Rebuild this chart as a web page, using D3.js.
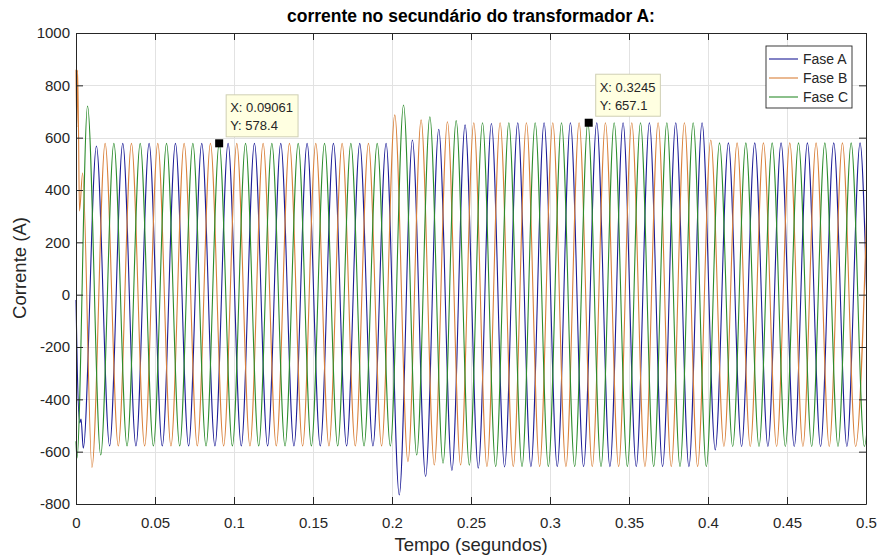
<!DOCTYPE html>
<html><head><meta charset="utf-8">
<script src="https://cdn.jsdelivr.net/npm/d3@7"></script>
<style>
body{margin:0;background:#fff}
svg{display:block}
text{font-family:"Liberation Sans",Arial,Helvetica,sans-serif;}
</style>
</head><body>
<svg id="c" width="879" height="556"></svg>
<script>
// ---- data ----
const xTicks = [0, 0.05, 0.1, 0.15, 0.2, 0.25, 0.3, 0.35, 0.4, 0.45, 0.5];
const xTickLabels = ["0","0.05","0.1","0.15","0.2","0.25","0.3","0.35","0.4","0.45","0.5"];
const yTicks = [-800,-600,-400,-200,0,200,400,600,800,1000];
const yTickLabels = ["-800","-600","-400","-200","0","200","400","600","800","1000"];
const seriesNames = ["Fase A","Fase B","Fase C"];

// spacing of successive extrema (half a 60 Hz cycle), read from the peaks
const halfCycle = 0.008333;

// initial transient points [t, value]
const startA = [[0,-20],[0.0008,-280],[0.0024,-490],[0.0032,-475]];
const startB = [[0,860],[0.0005,640],[0.0010,858],[0.0016,620],[0.0022,320],[0.0042,465]];
const startC = [[0,-560],[0.0006,-625]];

// time of first regular extremum of each phase
const firstExtA = 0.0046, firstExtB = 0.0101, firstExtC = 0.0073;

// successive extrema (peaks / troughs) of each phase
const extremaA = [-587,568,
 -578,578,-578,578,-578,578,-578,578,-578,578,-578,578,-578,578,-578,578,-578,578,-578,578,-578,578,
 -765,591,-695,632,-672,649,-663,654,-658,
 657,-657,657,-657,657,-657,657,-657,657,-657,657,-657,657,-657,657,
 -593,
 580,-580,580,-580,580,-580,580,-580,580,-580,580,-580,580];
const extremaB = [-660,578,
 -578,578,-578,578,-578,578,-578,578,-578,578,-578,578,-578,578,-578,578,-578,578,-578,578,-578,
 687,-638,668,-651,661,-651,657,
 -657,657,-657,657,-657,657,-657,657,-657,657,-657,657,-657,657,-657,657,-657,
 591,
 -580,580,-580,580,-580,580,-580,580,-580,580,-580,580];
const extremaC = [721,-613,
 578,-578,578,-578,578,-578,578,-578,578,-578,578,-578,578,-578,578,-578,578,-578,578,-578,578,-578,
 725,-613,680,-644,665,-652,
 657,-657,657,-657,657,-657,657,-657,657,-657,657,-657,657,-657,657,-657,657,-657,
 580,-580,580,-580,580,-580,580,-580,580,-580,580,-580,580];

// data tips
const tipX = [0.09061, 0.3245];
const tipY = [578.4, 657.1];

// ---- build series ----
function build(start, t0, ext){
  return start.concat(ext.map((v,i)=>[t0 + i*halfCycle, v]));
}
const series = [
  {name: seriesNames[0], color:"#1c1c96", data: build(startA, firstExtA, extremaA)},
  {name: seriesNames[1], color:"#d9803a", data: build(startB, firstExtB, extremaB)},
  {name: seriesNames[2], color:"#2c8c2c", data: build(startC, firstExtC, extremaC)}
];

// ---- layout ----
const L = 76, R = 866, T = 33, B = 504;
const axisColor = "#262626";
const svg = d3.select("#c");
const x = d3.scaleLinear().domain([0,0.5]).range([L,R]);
const y = d3.scaleLinear().domain([-800,1000]).range([B,T]);

// grid
const grid = svg.append("g").attr("stroke","#e2e2e2").attr("stroke-width",1);
grid.selectAll(".gx").data(xTicks).join("line")
  .attr("x1",d=>Math.round(x(d))+0.5).attr("x2",d=>Math.round(x(d))+0.5)
  .attr("y1",T).attr("y2",B);
grid.selectAll(".gy").data(yTicks).join("line")
  .attr("y1",d=>Math.round(y(d))+0.5).attr("y2",d=>Math.round(y(d))+0.5)
  .attr("x1",L).attr("x2",R);

// clip
svg.append("clipPath").attr("id","clip").append("rect")
  .attr("x",L-1).attr("y",T).attr("width",R-L+1).attr("height",B-T);

const line = d3.line().x(d=>x(d[0])).y(d=>y(d[1])).curve(d3.curveMonotoneX);
svg.append("g").attr("clip-path","url(#clip)")
  .selectAll("path").data(series).join("path")
  .attr("d",d=>line(d.data)).attr("fill","none")
  .attr("stroke",d=>d.color).attr("stroke-width",1.1);

// axes
function style(g){
  g.selectAll("path,line").attr("stroke",axisColor);
  g.selectAll("text").attr("fill",axisColor).attr("font-size","15px")
   .attr("font-family",'"Liberation Sans",Arial,sans-serif');
  g.attr("font-family",null).attr("font-size",null);
}
svg.append("g").attr("transform",`translate(0,${B})`)
  .call(d3.axisBottom(x).tickValues(xTicks).tickFormat((d,i)=>xTickLabels[i])
        .tickSize(-7).tickSizeOuter(0).tickPadding(13)).call(style);
svg.append("g").attr("transform",`translate(0,${T})`)
  .call(d3.axisTop(x).tickValues(xTicks).tickFormat("").tickSize(-7).tickSizeOuter(0)).call(style);
svg.append("g").attr("transform",`translate(${L},0)`)
  .call(d3.axisLeft(y).tickValues(yTicks).tickFormat((d,i)=>yTickLabels[i])
        .tickSize(-7).tickSizeOuter(0).tickPadding(6)).call(style);
svg.append("g").attr("transform",`translate(${R},0)`)
  .call(d3.axisRight(y).tickValues(yTicks).tickFormat("").tickSize(-7).tickSizeOuter(0)).call(style);

// titles
svg.append("text").attr("x",(L+R)/2).attr("y",22).attr("text-anchor","middle")
  .attr("font-weight","bold").attr("font-size","17.5px").attr("fill","#000")
  .text("corrente no secundário do transformador A:");
svg.append("text").attr("x",(L+R)/2).attr("y",551).attr("text-anchor","middle")
  .attr("font-size","18.5px").attr("fill",axisColor).text("Tempo (segundos)");
svg.append("text").attr("transform","translate(26,268) rotate(-90)").attr("text-anchor","middle")
  .attr("font-size","18.5px").attr("fill",axisColor).text("Corrente (A)");

// legend
const lg = svg.append("g").attr("transform","translate(766,46)");
lg.append("rect").attr("width",86).attr("height",62).attr("fill","#fff")
  .attr("stroke",axisColor).attr("stroke-width",0.9);
const le = lg.selectAll("g").data(series).join("g")
  .attr("transform",(d,i)=>`translate(0,${13+i*19})`);
le.append("line").attr("x1",3).attr("x2",32).attr("stroke",d=>d.color).attr("stroke-width",1.1);
le.append("text").attr("x",37).attr("y",5).attr("font-size","14px").attr("fill",axisColor).text(d=>d.name);

// data tips
tipX.forEach((tx,i)=>{
  const mx = x(tx), my = y(tipY[i]);
  const g = svg.append("g");
  const rect = g.append("rect").attr("fill","#ffffe1").attr("stroke","#cfcfb4").attr("stroke-width",1);
  const t1 = g.append("text").attr("x",mx+11).attr("y",my-31).attr("font-size","13px").attr("fill","#262626")
    .text("X: " + tx);
  const t2 = g.append("text").attr("x",mx+11).attr("y",my-13).attr("font-size","13px").attr("fill","#262626")
    .text("Y: " + tipY[i]);
  const w = Math.max(t1.node().getComputedTextLength(), t2.node().getComputedTextLength());
  rect.attr("x",mx+7).attr("y",my-48.5).attr("width",w+9).attr("height",42);
  g.append("rect").attr("x",mx-4).attr("y",my-4).attr("width",8).attr("height",8).attr("fill","#000");
});
</script>
</body></html>
